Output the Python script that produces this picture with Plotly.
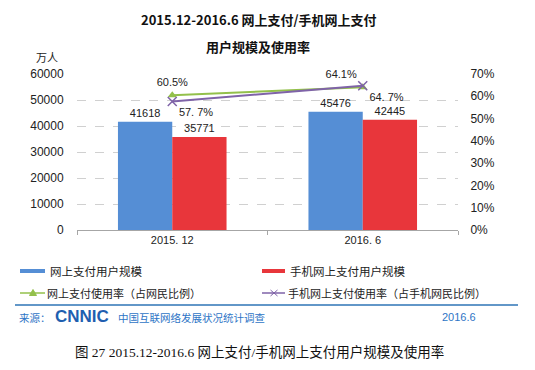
import plotly.graph_objects as go

categories = ["2015. 12", "2016. 6"]
online_pay_users = [41618, 45476]
mobile_pay_users = [35771, 42445]
online_pay_rate = [0.605, 0.641]
mobile_pay_rate = [0.577, 0.647]
online_rate_labels = ["60.5%", "64.1%"]
mobile_rate_labels = ["57. 7%", "64. 7%"]
left_ticks = [0, 10000, 20000, 30000, 40000, 50000, 60000]
right_ticks = [0, 0.1, 0.2, 0.3, 0.4, 0.5, 0.6, 0.7]

# page has an 8px body margin; work in screen pixels and subtract it
OFF = 8
W, H = 535 - 2 * OFF, 370 - 2 * OFF
L, R, T, B = 77, 458, 74, 230  # plot area in screen pixels

def px(x):
    return (x - L) / (R - L)

def py(y):
    return (B - y) / (B - T)

BLUE = "#558ED5"
RED = "#E8363B"
GREEN = "#93C04B"
PURPLE = "#7F63A8"
SANS = "Liberation Sans, Arial, Noto Sans CJK SC"
CJK = "Noto Sans CJK SC, Liberation Sans"
FOOT = "#2E75C6"

fig = go.Figure()
fig.add_trace(go.Bar(x=categories, y=online_pay_users, name="网上支付用户规模",
                     marker=dict(color=BLUE, line=dict(width=0)),
                     text=[str(v) for v in online_pay_users], textposition="outside",
                     textfont=dict(size=11, color="#222", family=SANS), cliponaxis=False))
fig.add_trace(go.Bar(x=categories, y=mobile_pay_users, name="手机网上支付用户规模",
                     marker=dict(color=RED, line=dict(width=0)),
                     text=[str(v) for v in mobile_pay_users], textposition="outside",
                     textfont=dict(size=11, color="#222", family=SANS), cliponaxis=False))
fig.add_trace(go.Scatter(x=categories, y=online_pay_rate, yaxis="y2", mode="lines+markers+text",
                         line=dict(color=GREEN, width=2),
                         marker=dict(symbol="triangle-up", size=8, color=GREEN),
                         text=online_rate_labels, textposition=["top center", "top left"],
                         textfont=dict(size=11, color="#222", family=SANS), cliponaxis=False))
fig.add_trace(go.Scatter(x=categories, y=mobile_pay_rate, yaxis="y2", mode="lines+markers+text",
                         line=dict(color=PURPLE, width=2),
                         marker=dict(symbol="x-thin", size=9, line=dict(color=PURPLE, width=1.5)),
                         text=mobile_rate_labels, textposition="bottom right",
                         textfont=dict(size=11, color="#222", family=SANS), cliponaxis=False))

fig.update_layout(
    width=W, height=H,
    margin=dict(l=L - OFF, r=W - (R - OFF), t=T - OFF, b=H - (B - OFF), autoexpand=False),
    paper_bgcolor="white", plot_bgcolor="white",
    showlegend=False,
    barmode="group", bargap=0.43, bargroupgap=0.0,
    font=dict(family=SANS, size=12, color="#222"),
    xaxis=dict(type="category", showline=True, linecolor="#A6A6A6", linewidth=1,
               ticks="outside", tickson="boundaries", ticklen=4, tickcolor="#A6A6A6",
               tickfont=dict(size=11, family=SANS, color="#222"), showgrid=False),
    yaxis=dict(range=[0, 60000], tickvals=left_ticks, tickformat="d", showgrid=True,
               gridcolor="#D0D0D0", griddash="dash", gridwidth=1, zeroline=False,
               ticks="outside", ticklen=10, tickcolor="rgba(0,0,0,0)",
               tickfont=dict(size=12, family=SANS, color="#222")),
    yaxis2=dict(range=[0, 0.7], tickvals=right_ticks, tickformat=".0%", overlaying="y",
                side="right", showgrid=False, zeroline=False, ticks="outside", ticklen=9,
                tickcolor="rgba(0,0,0,0)", tickfont=dict(size=12, family=SANS, color="#222")),
)

ann = []
ann.append(dict(text="<b>2015.12-2016.6 网上支付/手机网上支付</b>", x=px(259), y=py(20),
                font=dict(size=13, family=CJK, color="#111")))
ann.append(dict(text="<b>用户规模及使用率</b>", x=px(258), y=py(46),
                font=dict(size=13, family=CJK, color="#111")))
ann.append(dict(text="万人", x=px(47), y=py(57), font=dict(size=11, family=CJK, color="#222")))

# legend
ann.append(dict(text="网上支付用户规模", x=px(48), y=py(271), xanchor="left",
                font=dict(size=11.5, family=CJK, color="#222")))
ann.append(dict(text="手机网上支付用户规模", x=px(288), y=py(271), xanchor="left",
                font=dict(size=11.5, family=CJK, color="#222")))
ann.append(dict(text="网上支付使用率（占网民比例）", x=px(45), y=py(293), xanchor="left",
                font=dict(size=11, family=CJK, color="#222")))
ann.append(dict(text="手机网上支付使用率（占手机网民比例）", x=px(286), y=py(293), xanchor="left",
                font=dict(size=11, family=CJK, color="#222")))
# footer
ann.append(dict(text="来源：", x=px(17), y=py(317), xanchor="left",
                font=dict(size=10.5, family=CJK, color=FOOT)))
ann.append(dict(text="<b>CNNIC</b>", x=px(53), y=py(316), xanchor="left",
                font=dict(size=17, family="Liberation Sans", color="#1F5FB0")))
ann.append(dict(text="中国互联网络发展状况统计调查", x=px(116), y=py(317), xanchor="left",
                font=dict(size=10.5, family=CJK, color=FOOT)))
ann.append(dict(text="2016.6", x=px(440), y=py(317), xanchor="left",
                font=dict(size=11, family=SANS, color=FOOT)))
ann.append(dict(text="图 27 2015.12-2016.6 网上支付/手机网上支付用户规模及使用率", x=px(259), y=py(352),
                font=dict(size=13.5, family="Liberation Serif, Noto Sans CJK SC", color="#111")))
for a in ann:
    a.update(xref="paper", yref="paper", showarrow=False)
    a.setdefault("xanchor", "center")
    a.setdefault("yanchor", "middle")
fig.update_layout(annotations=ann)

shapes = [
    dict(type="line", x0=px(20), x1=px(45), y0=py(271), y1=py(271), line=dict(color=BLUE, width=4)),
    dict(type="line", x0=px(262), x1=px(285), y0=py(271), y1=py(271), line=dict(color=RED, width=4)),
    dict(type="line", x0=px(20), x1=px(45), y0=py(293), y1=py(293), line=dict(color=GREEN, width=1.5)),
    dict(type="line", x0=px(262), x1=px(285), y0=py(293), y1=py(293), line=dict(color=PURPLE, width=1.5)),
    dict(type="path", path="M {} {} L {} {} L {} {} Z".format(px(29.5), py(295.5), px(36.5), py(295.5), px(33), py(289.5)),
         fillcolor=GREEN, line=dict(color=GREEN, width=1)),
    dict(type="line", x0=px(270.5), x1=px(277.5), y0=py(290), y1=py(296), line=dict(color=PURPLE, width=1)),
    dict(type="line", x0=px(270.5), x1=px(277.5), y0=py(296), y1=py(290), line=dict(color=PURPLE, width=1)),
    dict(type="line", x0=px(15), x1=px(518), y0=py(305), y1=py(305), line=dict(color="#2E75B6", width=1.5)),
]
for s in shapes:
    s.update(xref="paper", yref="paper")
fig.update_layout(shapes=shapes)

fig.write_html("out.html")
